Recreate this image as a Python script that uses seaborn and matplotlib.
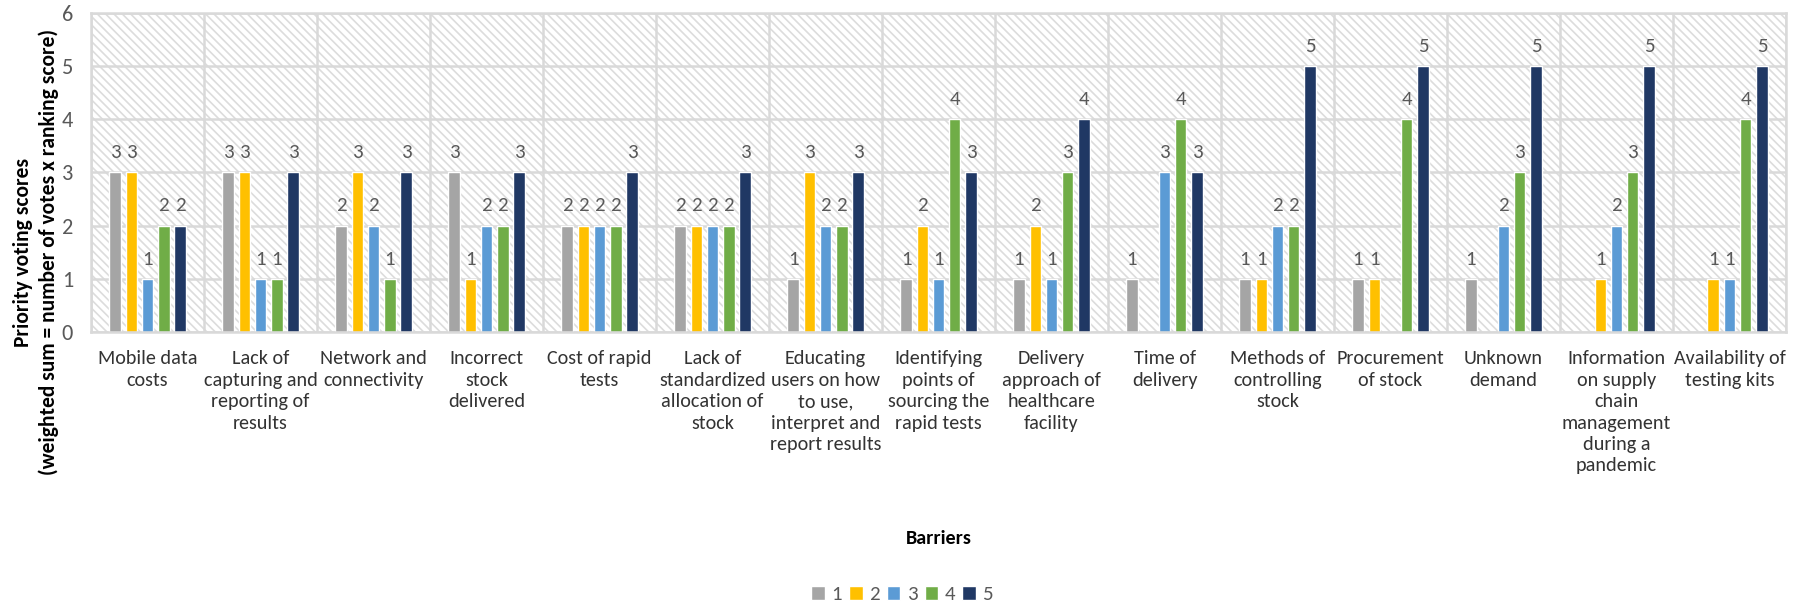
import matplotlib
matplotlib.use("Agg")
import matplotlib.pyplot as plt
from matplotlib import font_manager as fm
from matplotlib.patches import Rectangle
from matplotlib.ticker import MultipleLocator, FixedLocator
import seaborn as sns
import pandas as pd

barriers = [
    "Mobile data\ncosts",
    "Lack of\ncapturing and\nreporting of\nresults",
    "Network and\nconnectivity",
    "Incorrect\nstock\ndelivered",
    "Cost of rapid\ntests",
    "Lack of\nstandardized\nallocation of\nstock",
    "Educating\nusers on how\nto use,\ninterpret and\nreport results",
    "Identifying\npoints of\nsourcing the\nrapid tests",
    "Delivery\napproach of\nhealthcare\nfacility",
    "Time of\ndelivery",
    "Methods of\ncontrolling\nstock",
    "Procurement\nof stock",
    "Unknown\ndemand",
    "Information\non supply\nchain\nmanagement\nduring a\npandemic",
    "Availability of\ntesting kits",
]
ranks = ["1", "2", "3", "4", "5"]
rank1 = [3, 3, 2, 3, 2, 2, 1, 1, 1, 1, 1, 1, 1, 0, 0]
rank2 = [3, 3, 3, 1, 2, 2, 3, 2, 2, 0, 1, 1, 0, 1, 1]
rank3 = [1, 1, 2, 2, 2, 2, 2, 1, 1, 3, 2, 0, 2, 2, 1]
rank4 = [2, 1, 1, 2, 2, 2, 2, 4, 3, 4, 2, 4, 3, 3, 4]
rank5 = [2, 3, 3, 3, 3, 3, 3, 3, 4, 3, 5, 5, 5, 5, 5]
colors = ["#A5A5A5", "#FFC000", "#5B9BD5", "#70AD47", "#203864"]

series = [rank1, rank2, rank3, rank4, rank5]
rows = []
for r, vals in zip(ranks, series):
    for b, v in zip(barriers, vals):
        rows.append({"barrier": b, "rank": r, "score": v})
df = pd.DataFrame(rows)

# pick a Calibri-like font if one is installed
names = {f.name for f in fm.fontManager.ttflist}
narrow = ["Carlito", "Liberation Sans Narrow", "Roboto Condensed",
          "Open Sans Condensed", "Arial Narrow"]
chosen = next((c for c in narrow if c in names), None)
if chosen is None:
    chosen = "Liberation Sans"
    fs = 12.5
else:
    fs = 14.5

sns.set_style("white")
plt.rcParams["font.family"] = [chosen, "Liberation Sans", "DejaVu Sans"]
plt.rcParams["hatch.linewidth"] = 1.2

fig, ax = plt.subplots(figsize=(18.04, 6.07), dpi=100)
fig.subplots_adjust(left=0.0505, right=0.990, top=0.979, bottom=0.453)

txt_gray = "#595959"
grid_gray = "#D9D9D9"

ax.add_patch(Rectangle((0, 0), 1, 1, transform=ax.transAxes, facecolor="white",
                       edgecolor="#DCDCDC", hatch="\\\\\\\\", linewidth=0, zorder=0))

sns.barplot(data=df, x="barrier", y="score", hue="rank", palette=colors,
            saturation=1, width=0.72, gap=0.3, ax=ax, zorder=2, legend=True)

for cont, vals in zip(ax.containers, series):
    ax.bar_label(cont, labels=[str(v) if v > 0 else "" for v in vals],
                 padding=8, color=txt_gray, fontsize=fs + 0.5)

ax.set_ylim(0, 6)
ax.set_xlim(-0.5, len(barriers) - 0.5)
ax.yaxis.set_major_locator(MultipleLocator(1))
ax.xaxis.set_minor_locator(FixedLocator([i + 0.5 for i in range(-1, len(barriers))]))
ax.set_axisbelow(True)
ax.grid(axis="y", which="major", color=grid_gray, linewidth=1.8, zorder=0.5)
ax.grid(axis="x", which="minor", color=grid_gray, linewidth=1.8, zorder=0.5)
ax.grid(axis="x", which="major", visible=False)
for s in ax.spines.values():
    s.set_color(grid_gray)
    s.set_linewidth(1.8)

ax.tick_params(axis="both", which="both", length=0)
ax.tick_params(axis="y", labelsize=fs + 1.5, labelcolor=txt_gray, pad=13)
ax.tick_params(axis="x", labelsize=fs, labelcolor="#333333", pad=13)
for lbl in ax.get_xticklabels():
    lbl.set_linespacing(1.32)

ax.set_ylabel("Priority voting scores\n(weighted sum = number of votes x ranking score)",
              fontsize=fs + 1, fontweight="bold", color="black", linespacing=1.3)
ax.yaxis.set_label_coords(-0.019, 0.25)
ax.set_xlabel("Barriers", fontsize=fs, fontweight="bold", color="black")
ax.xaxis.set_label_coords(0.5, -0.62)

ax.get_legend().remove()
handles, labels = ax.get_legend_handles_labels()
leg = fig.legend(handles, labels, loc="center", bbox_to_anchor=(0.5, 0.02), ncol=5,
                 frameon=False, fontsize=fs + 0.5, handlelength=0.65, handleheight=0.65,
                 handletextpad=0.3, columnspacing=0.35)
for t in leg.get_texts():
    t.set_color(txt_gray)

fig.savefig("out.png", dpi=100)
